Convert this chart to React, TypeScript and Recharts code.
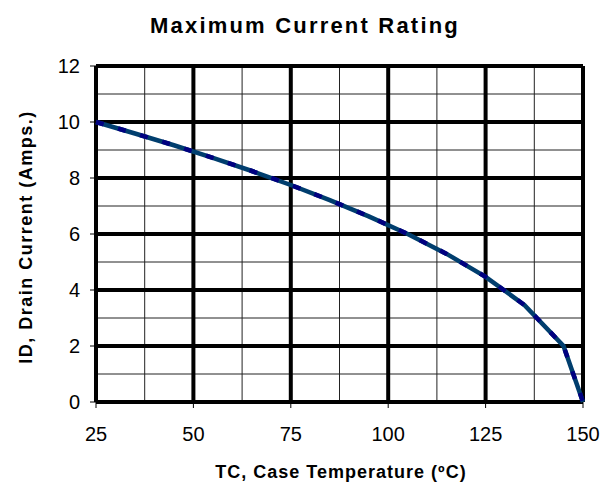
import { CartesianGrid, Line, LineChart, XAxis, YAxis } from 'recharts';

const temperatures = [25, 35, 45, 55, 65, 75, 85, 95, 105, 115, 125, 135, 145, 150];
const drainCurrent = [10, 9.59, 9.17, 8.72, 8.25, 7.75, 7.21, 6.63, 6.0, 5.29, 4.47, 3.46, 2.0, 0];

const xTicks = [25, 50, 75, 100, 125, 150];
const yTicks = [0, 2, 4, 6, 8, 10, 12];
const xMinor = [37.5, 62.5, 87.5, 112.5, 137.5];
const yMinor = [1, 3, 5, 7, 9, 11];

const chartTitle = 'Maximum Current Rating';
const xTitle = 'TC, Case Temperature (ºC)';
const yTitle = 'ID, Drain Current (Amps.)';

const data = temperatures.map((t, i) => ({ t, id: drainCurrent[i] }));

const font = '"Liberation Sans", Arial, sans-serif';
const tickStyle = { fontSize: 20, fill: '#000', fontFamily: font };

export default function App() {
  return (
    <div style={{ position: 'absolute', left: 0, top: 0, width: 604, height: 487, background: '#fff' }}>
      <LineChart width={604} height={487} data={data} margin={{ top: 66, right: 21, bottom: 0, left: 0 }}>
        <CartesianGrid stroke="#222" strokeWidth={1} horizontalValues={yMinor} verticalValues={xMinor} />
        <CartesianGrid stroke="#000" strokeWidth={4} horizontalValues={yTicks} verticalValues={xTicks} />
        <XAxis
          dataKey="t"
          type="number"
          domain={[25, 150]}
          ticks={xTicks}
          axisLine={false}
          tickLine={{ stroke: '#000', strokeWidth: 1 }}
          tickSize={6}
          tickMargin={19}
          height={85}
          tick={tickStyle}
          interval={0}
        />
        <YAxis
          type="number"
          domain={[0, 12]}
          ticks={yTicks}
          axisLine={false}
          tickLine={{ stroke: '#000', strokeWidth: 1 }}
          tickSize={6}
          tickMargin={10}
          width={96}
          tick={tickStyle}
          interval={0}
        />
        <Line
          dataKey="id"
          type="linear"
          stroke="#003E6E"
          strokeWidth={4.5}
          dot={false}
          isAnimationActive={false}
        />
        <Line
          dataKey="id"
          type="linear"
          stroke="#000080"
          strokeWidth={4.5}
          strokeDasharray="8 15"
          dot={false}
          isAnimationActive={false}
        />
      </LineChart>
      <svg width={604} height={487} style={{ position: 'absolute', left: 0, top: 0, pointerEvents: 'none' }}>
        <text x={305} y={33} textAnchor="middle" fontFamily={font} fontWeight="bold" fontSize={22} letterSpacing={2.2}>
          {chartTitle}
        </text>
        <text x={341} y={478} textAnchor="middle" fontFamily={font} fontWeight="bold" fontSize={18} letterSpacing={1}>
          {xTitle}
        </text>
        <text
          x={0}
          y={0}
          transform="translate(32, 237) rotate(-90)"
          textAnchor="middle"
          fontFamily={font}
          fontWeight="bold"
          fontSize={18}
          letterSpacing={1.5}
        >
          {yTitle}
        </text>
      </svg>
    </div>
  );
}
